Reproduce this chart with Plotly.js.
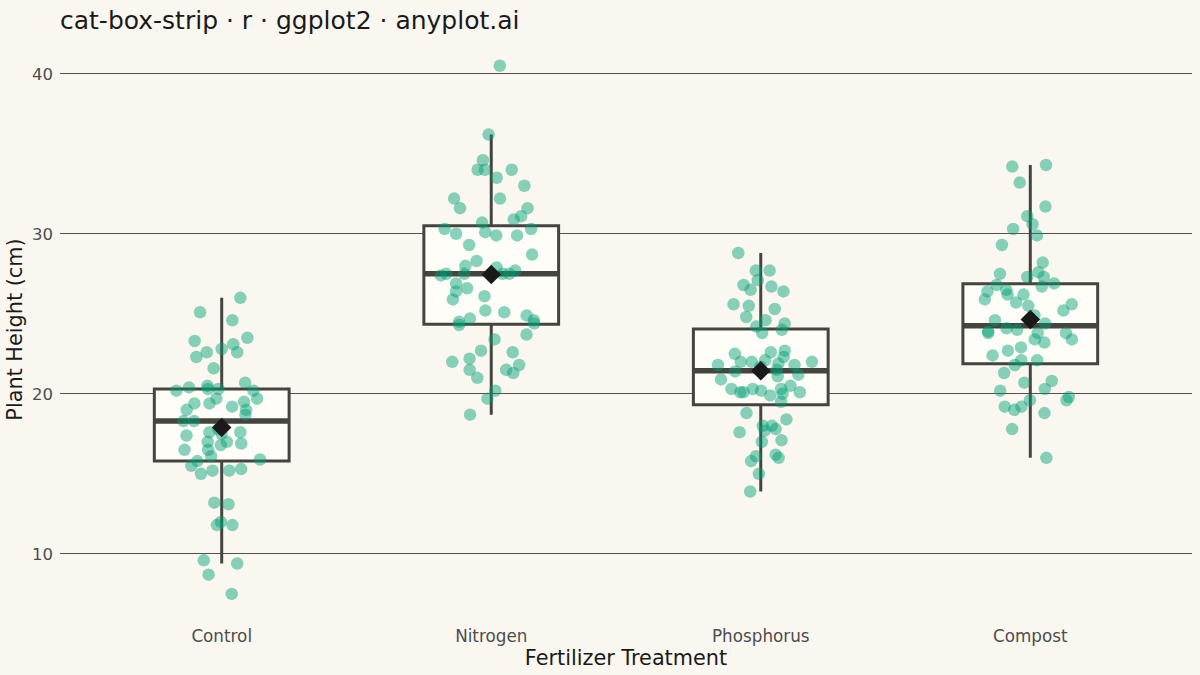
<!DOCTYPE html>
<html>
<head>
<meta charset="utf-8">
<script src="https://cdn.plot.ly/plotly-3.0.1.min.js"></script>
<style>html,body{margin:0;padding:0;background:#FAF7F1;}#chart{width:1200px;height:675px;}</style>
</head>
<body>
<div id="chart"></div>
<script>
const categories = ['Control', 'Nitrogen', 'Phosphorus', 'Compost'];

const control = [26.0, 25.1, 24.6, 23.5, 23.1, 22.8, 23.3, 22.6, 22.3, 22.6, 21.6, 20.7, 20.5, 20.3, 20.4,
  20.3, 20.2, 20.2, 19.7, 19.4, 19.4, 19.7, 19.5, 19.0, 19.2, 19.0, 18.7, 18.3, 18.3, 17.8, 17.6, 17.4,
  17.6, 17.5, 17.0, 16.9, 16.5, 17.0, 16.5, 16.8, 16.1, 15.9, 15.8, 15.2, 15.0, 15.3, 15.5, 15.2, 13.2,
  13.1, 11.8, 11.8, 12.0, 9.6, 9.4, 8.7, 7.5];

const nitrogen = [40.5, 36.2, 34.6, 34.0, 34.0, 34.0, 33.5, 33.0, 32.2, 32.2, 31.6, 31.6, 31.1, 30.9, 30.7,
  30.3, 30.3, 29.9, 30.0, 30.1, 29.9, 29.3, 28.7, 28.3, 27.9, 28.0, 27.5, 27.5, 27.5, 27.5, 27.7, 27.4,
  26.9, 26.6, 26.4, 26.1, 25.9, 25.2, 24.9, 24.7, 25.1, 24.4, 24.6, 24.5, 24.3, 23.7, 23.4, 22.7, 22.2,
  22.0, 22.6, 21.8, 21.3, 21.5, 21.5, 21.0, 20.2, 19.7, 18.7];

const phosphorus = [28.8, 27.7, 27.7, 27.1, 26.7, 26.4, 26.8, 26.5, 25.6, 25.5, 25.3, 24.8, 24.6, 24.4, 24.2,
  24.0, 23.8, 22.6, 22.7, 22.5, 22.3, 22.0, 21.9, 21.8, 22.0, 22.0, 21.8, 21.5, 21.4, 21.1, 21.2, 20.9,
  20.3, 20.1, 19.5, 20.5, 20.0, 20.1, 19.9, 20.1, 20.3, 20.3, 18.8, 18.4, 18.0, 17.6, 17.7, 18.0, 17.8,
  17.1, 17.0, 16.0, 16.1, 16.2, 15.8, 15.0, 13.9, 20.2, 21.7, 22.1];

const compost = [34.3, 34.2, 33.2, 31.7, 31.1, 30.6, 30.3, 29.9, 29.3, 28.2, 27.6, 27.3, 27.3, 27.5, 26.9,
  26.8, 26.7, 26.5, 26.2, 26.4, 26.2, 25.9, 25.7, 25.6, 25.5, 25.2, 24.9, 24.6, 24.4, 24.1, 24.0, 23.9,
  23.8, 23.8, 23.4, 23.2, 23.8, 23.4, 22.9, 22.7, 22.4, 22.1, 21.8, 22.1, 21.3, 20.7, 20.8, 20.2, 20.3,
  19.8, 19.6, 19.6, 19.2, 19.2, 19.0, 18.8, 17.8, 16.0];

const yTicks = [10, 20, 30, 40];

const groups = [control, nitrogen, phosphorus, compost];

// R type-7 quantile (ggplot2 default)
function q7(sorted, p) {
  const h = (sorted.length - 1) * p;
  const lo = Math.floor(h);
  const hi = Math.min(lo + 1, sorted.length - 1);
  return sorted[lo] + (h - lo) * (sorted[hi] - sorted[lo]);
}

const idx = categories.map((c, i) => i);
const stats = groups.map(g => {
  const s = g.slice().sort((a, b) => a - b);
  const q1 = q7(s, 0.25), med = q7(s, 0.5), q3 = q7(s, 0.75);
  const iqr = q3 - q1;
  const lf = Math.min(...s.filter(v => v >= q1 - 1.5 * iqr));
  const uf = Math.max(...s.filter(v => v <= q3 + 1.5 * iqr));
  const mean = g.reduce((a, b) => a + b, 0) / g.length;
  return {q1, med, q3, lf, uf, mean};
});

const ink = '#45453F';
const font = 'DejaVu Sans, Verdana, sans-serif';

const boxTrace = {
  type: 'box', x: idx,
  q1: stats.map(s => s.q1), median: stats.map(s => s.med), q3: stats.map(s => s.q3),
  lowerfence: stats.map(s => s.lf), upperfence: stats.map(s => s.uf),
  width: 0.5, whiskerwidth: 0, boxpoints: false,
  fillcolor: '#FFFDF8', line: {color: ink, width: 3},
  showlegend: false, hoverinfo: 'skip'
};

const medianTrace = {
  type: 'box', x: idx,
  q1: stats.map(s => s.med), median: stats.map(s => s.med), q3: stats.map(s => s.med),
  lowerfence: stats.map(s => s.med), upperfence: stats.map(s => s.med),
  width: 0.5, whiskerwidth: 0, boxpoints: false,
  fillcolor: ink, line: {color: ink, width: 5.5},
  showlegend: false, hoverinfo: 'skip'
};

const px = [], py = [];
groups.forEach((g, i) => g.forEach(v => { px.push(i); py.push(v); }));

const pointTrace = {
  type: 'box', x: px, y: py,
  boxpoints: 'all', jitter: 0.8, pointpos: 0, width: 0.5,
  fillcolor: 'rgba(0,0,0,0)', line: {color: 'rgba(0,0,0,0)', width: 0},
  marker: {color: 'rgba(0,158,115,0.46)', size: 12.5, line: {width: 0}},
  whiskerwidth: 0, showlegend: false, hoveron: 'points'
};

const meanTrace = {
  type: 'scatter', mode: 'markers', x: idx, y: stats.map(s => s.mean),
  marker: {symbol: 'diamond', size: 15, color: '#1A1A1A', line: {width: 0}},
  showlegend: false
};

const layout = {
  width: 1200, height: 675,
  paper_bgcolor: '#FAF7F1', plot_bgcolor: '#FAF7F1',
  margin: {l: 60, r: 8, t: 39, b: 55},
  boxmode: 'overlay',
  font: {family: font, color: '#1A1A1A'},
  title: {
    text: 'cat-box-strip · r · ggplot2 · anyplot.ai',
    font: {family: font, size: 25, color: '#1A1A1A'},
    x: 60 / 1200, xanchor: 'left', xref: 'container',
    y: 1 - 20 / 675, yanchor: 'middle', yref: 'container'
  },
  xaxis: {
    type: 'linear', range: [-0.6, 3.6],
    tickvals: idx, ticktext: categories,
    showgrid: false, zeroline: false, showline: false, ticks: '',
    ticklabelstandoff: 4,
    tickfont: {family: font, size: 16.8, color: '#4D4D4D'},
    title: {text: 'Fertilizer Treatment', font: {family: font, size: 20.8, color: '#1A1A1A'}, standoff: 3}
  },
  yaxis: {
    range: [5.87, 42.17],
    tickvals: yTicks,
    showgrid: true, gridcolor: '#3E3E3E', gridwidth: 0.9,
    zeroline: false, showline: false, ticks: '',
    ticklabelstandoff: 6,
    tickfont: {family: font, size: 16.5, color: '#4D4D4D'},
    title: {text: 'Plant Height (cm)', font: {family: font, size: 20.8, color: '#1A1A1A'}, standoff: 3}
  }
};

Plotly.newPlot('chart', [boxTrace, medianTrace, pointTrace, meanTrace], layout, {displayModeBar: false, staticPlot: true});
</script>
</body>
</html>
